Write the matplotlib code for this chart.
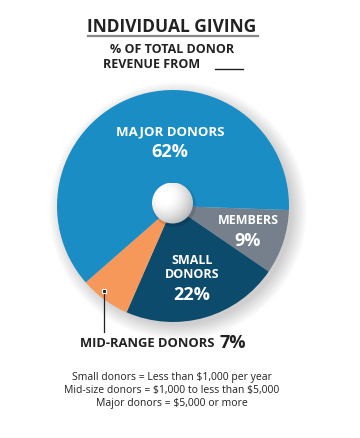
import numpy as np
import matplotlib.pyplot as plt
from matplotlib.patches import Circle

plt.rcParams['text.parse_math'] = False

# data
labels = ['MEMBERS', 'SMALL DONORS', 'MID-RANGE DONORS', 'MAJOR DONORS']
shares = [9, 22, 7, 62]
colors = ['#76808d', '#0d4b6d', '#f5985a', '#1a8dc5']
notes = ['Small donors = Less than $1,000 per year',
         'Mid-size donors = $1,000 to less than $5,000',
         'Major donors = $5,000 or more']

W, H = 360, 439
fig = plt.figure(figsize=(W / 100, H / 100), dpi=100)
ax = fig.add_axes([0, 0, 1, 1])

def Y(y):
    # pixel row from top -> data y
    return H - y

cx, cy, r = 173, Y(207), 116
bold = dict(family='Open Sans', fontweight='bold')

# soft drop shadow
for k in range(16):
    ax.add_patch(Circle((cx + 5, cy - 5), r - 2 + k, color='#000000',
                        alpha=0.011, lw=0, zorder=1))

wedges, _ = ax.pie(shares, colors=colors, startangle=-2, counterclock=False,
                   center=(cx, cy), radius=r,
                   wedgeprops=dict(linewidth=0))
for w in wedges:
    w.set_zorder(3)
ax.set_xlim(0, W)
ax.set_ylim(0, H)
ax.set_aspect('equal')
ax.axis('off')

# white ball in the middle
br = 20.5
bx, by = 172.5, Y(204)
gx, gy = np.meshgrid(np.linspace(-1, 1, 200), np.linspace(-1, 1, 200))
d = np.sqrt((gx + 0.35) ** 2 + (gy - 0.35) ** 2)
shade = 1 - 0.22 * np.clip(d - 0.3, 0, None) ** 1.5
im = ax.imshow(shade, cmap='gray', vmin=0, vmax=1, origin='lower',
               extent=(bx - br, bx + br, by - br, by + br), zorder=5)
clip = Circle((bx, by), br, transform=ax.transData)
im.set_clip_path(clip)
ax.add_patch(Circle((bx + 1.5, by - 2), br + 1.5, color='#000000', alpha=0.12,
                    lw=0, zorder=4))

# labels on wedges
ax.text(170, Y(132), labels[3], color='white', fontsize=9.5, ha='center', va='center', zorder=6, **bold)
ax.text(170, Y(152), f'{shares[3]}%', color='white', fontsize=13, ha='center', va='center', zorder=6, **bold)
ax.text(248, Y(220), labels[0], color='white', fontsize=9, ha='center', va='center', zorder=6, **bold)
ax.text(248, Y(241), f'{shares[0]}%', color='white', fontsize=13, ha='center', va='center', zorder=6, **bold)
ax.text(192, Y(260), 'SMALL', color='white', fontsize=9, ha='center', va='center', zorder=6, **bold)
ax.text(192, Y(275), 'DONORS', color='white', fontsize=9, ha='center', va='center', zorder=6, **bold)
ax.text(192, Y(295), f'{shares[1]}%', color='white', fontsize=13, ha='center', va='center', zorder=6, **bold)

# mid-range callout
ax.plot([104, 104], [Y(292), Y(333)], color='#222222', lw=0.9, zorder=6)
ax.plot(104, Y(292), marker='s', ms=3.2, mfc='#222222', mec='white', mew=0.8, zorder=7)
ax.text(80, Y(344), labels[2], color='#222222', fontsize=9.4, ha='left', va='center', **bold)
ax.text(219.5, Y(343), f'{shares[2]}%', color='#222222', fontsize=13, ha='left', va='center', **bold)

# title block
ax.text(172, Y(27), 'INDIVIDUAL GIVING', color='#222222', fontsize=12.5, ha='center', va='center', **bold)
ax.plot([88, 258], [Y(37), Y(37)], color='#888888', lw=1.6)
ax.text(172, Y(49), '% OF TOTAL DONOR', color='#222222', fontsize=9, ha='center', va='center', **bold)
ax.text(103, Y(65), 'REVENUE FROM', color='#222222', fontsize=9, ha='left', va='center', **bold)
ax.plot([215, 243], [Y(70), Y(70)], color='#222222', lw=1.0)

# footnotes
for i, t in enumerate(notes):
    ax.text(172, Y(378 + 13 * i), t, color='#222222', fontsize=7.5,
            family='Open Sans', ha='center', va='center')

fig.savefig('out.png', dpi=100)
